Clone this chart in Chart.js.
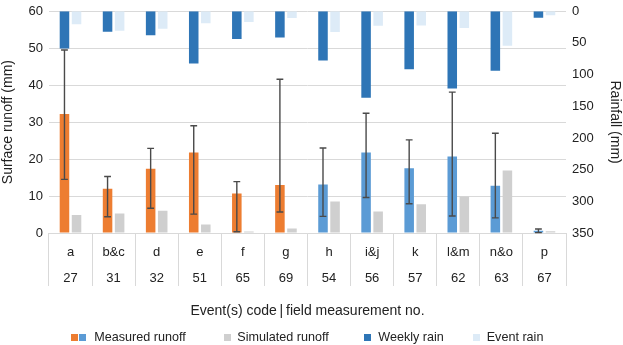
<!DOCTYPE html>
<html>
<head>
<meta charset="utf-8">
<script src="https://cdn.jsdelivr.net/npm/chart.js@4.4.0/dist/chart.umd.min.js"></script>
<style>
  html, body { margin: 0; padding: 0; background: #fff; }
  #wrap { position: relative; width: 623px; height: 345px; font-family: "Liberation Sans", Arial, sans-serif; color: #222; }
  #grafico { position: absolute; left: 0; top: 0; }
  .sq { position: absolute; width: 7px; height: 7px; top: 334px; }
  .lbl { position: absolute; top: 330px; font-size: 12.6px; line-height: 14px; white-space: nowrap; }
</style>
</head>
<body>
<div id="wrap">
  <canvas id="grafico" width="623" height="345"></canvas>
  <div id="legenda"></div>
</div>
<script>
// dados
const codes = ['a', 'b&c', 'd', 'e', 'f', 'g', 'h', 'i&j', 'k', 'l&m', 'n&o', 'p'];
const measurementNo = ['27', '31', '32', '51', '65', '69', '54', '56', '57', '62', '63', '67'];
const period = [1, 1, 1, 1, 1, 1, 2, 2, 2, 2, 2, 2];

const measured = [32.2, 12.0, 17.4, 21.8, 10.7, 13.0, 13.1, 21.8, 17.5, 20.7, 12.8, 0.6];
const measuredLow = [14.5, 4.4, 6.7, 5.1, 0.35, 5.7, 4.5, 9.6, 7.9, 4.6, 4.1, 0.1];
const measuredHigh = [49.5, 15.3, 22.9, 29.0, 13.9, 41.6, 23.0, 32.4, 25.2, 38.1, 27.0, 1.1];
const simulated = [4.9, 5.3, 6.0, 2.3, 0.4, 1.2, 8.5, 5.8, 7.8, 9.9, 16.9, 0.5];

const weeklyRain = [59, 32.4, 38, 82.7, 43.7, 41.6, 77.6, 136.7, 91.5, 121.8, 94, 10.3];
const eventRain = [20.5, 30.8, 27.7, 19, 17, 10.8, 32.9, 23.1, 22.6, 26.7, 54.5, 6.2];

const runoffTicks = [0, 60, 10];
const rainTicks = [0, 350, 50];

(function() {
  function el(id) {
    return document.getElementById(id);
  }

  const CORES = {
    periodo: { 1: '#ED7D31', 2: '#5B9BD5' },
    simulado: '#CFCFCF',
    semanal: '#2E75B6',
    evento: '#DDEBF7',
    grade: '#D9D9D9',
    texto: '#222'
  };

  // barras de erro do escoamento medido
  const errorBars = {
    id: 'errorBars',
    afterDatasetsDraw(chart) {
      const meta = chart.getDatasetMeta(2);
      const y = chart.scales.y;
      const ctx = chart.ctx;
      ctx.save();
      ctx.strokeStyle = '#4a4a4a';
      ctx.lineWidth = 1.4;
      meta.data.forEach(function(bar, i) {
        const topo = y.getPixelForValue(measuredHigh[i]);
        const base = y.getPixelForValue(measuredLow[i]);
        ctx.beginPath();
        ctx.moveTo(bar.x, topo);
        ctx.lineTo(bar.x, base);
        ctx.moveTo(bar.x - 3.4, topo);
        ctx.lineTo(bar.x + 3.4, topo);
        ctx.moveTo(bar.x - 3.4, base);
        ctx.lineTo(bar.x + 3.4, base);
        ctx.stroke();
      });
      ctx.restore();
    }
  };

  Chart.defaults.font.family = '"Liberation Sans", Arial, sans-serif';
  Chart.defaults.color = CORES.texto;

  const barOpts = { categoryPercentage: 0.56, barPercentage: 0.79, borderWidth: 0 };

  new Chart(el('grafico'), {
    type: 'bar',
    data: {
      labels: codes.map(function(c, i) { return [c, measurementNo[i]]; }),
      datasets: [
        Object.assign({ label: 'Weekly rain', data: weeklyRain, yAxisID: 'y2', stack: 's1', backgroundColor: CORES.semanal }, barOpts),
        Object.assign({ label: 'Event rain', data: eventRain, yAxisID: 'y2', stack: 's2', backgroundColor: CORES.evento }, barOpts),
        Object.assign({ label: 'Measured runoff', data: measured, yAxisID: 'y', stack: 's1',
          backgroundColor: period.map(function(p) { return CORES.periodo[p]; }) }, barOpts),
        Object.assign({ label: 'Simulated runoff', data: simulated, yAxisID: 'y', stack: 's2', backgroundColor: CORES.simulado }, barOpts)
      ]
    },
    options: {
      responsive: false,
      animation: false,
      layout: { padding: { left: 0, right: 0, top: 5.5, bottom: 25.6 } },
      plugins: {
        legend: { display: false },
        tooltip: { enabled: false }
      },
      scales: {
        x: {
          offset: true,
          grid: { offset: true, drawOnChartArea: false, drawTicks: true, tickLength: 53, color: CORES.grade },
          border: { display: true, color: CORES.grade },
          ticks: { font: { size: 13, lineHeight: 2 }, padding: -47, maxRotation: 0, autoSkip: false },
          title: {
            display: true,
            text: 'Event(s) code\u2009|\u2009field measurement no.',
            font: { size: 14 },
            padding: { top: 58.6, bottom: 0 }
          }
        },
        y: {
          position: 'left',
          stacked: false,
          min: runoffTicks[0],
          max: runoffTicks[1],
          ticks: { stepSize: runoffTicks[2], font: { size: 13, lineHeight: 0.8 }, padding: 6 },
          grid: { color: CORES.grade, drawTicks: false },
          border: { display: false },
          title: { display: true, text: 'Surface runoff (mm)', font: { size: 14 }, padding: { top: 0, bottom: 5.7 } }
        },
        y2: {
          position: 'right',
          stacked: false,
          reverse: true,
          min: rainTicks[0],
          max: rainTicks[1],
          ticks: { stepSize: rainTicks[2], font: { size: 13, lineHeight: 0.8 }, padding: 6 },
          grid: { display: false, drawTicks: false },
          border: { display: false },
          title: { display: true, text: 'Rainfall (mm)', font: { size: 14 }, padding: { top: 0, bottom: 6.5 } }
        }
      }
    },
    plugins: [errorBars]
  });

  // legenda em html (medido tem dois quadrados)
  const legenda = [
    { texto: 'Measured runoff', cores: [CORES.periodo[1], CORES.periodo[2]], x: [70.7, 79], tx: 94.3 },
    { texto: 'Simulated runoff', cores: [CORES.simulado], x: [224], tx: 237.3 },
    { texto: 'Weekly rain', cores: [CORES.semanal], x: [364.3], tx: 378.3 },
    { texto: 'Event rain', cores: [CORES.evento], x: [473.3], tx: 486.7 }
  ];
  let html = '';
  legenda.forEach(function(item) {
    item.cores.forEach(function(c, i) {
      html += '<div class="sq" style="left:' + item.x[i] + 'px;background:' + c + '"></div>';
    });
    html += '<span class="lbl" style="left:' + item.tx + 'px">' + item.texto + '</span>';
  });
  el('legenda').innerHTML = html;
})();
</script>
</body>
</html>
